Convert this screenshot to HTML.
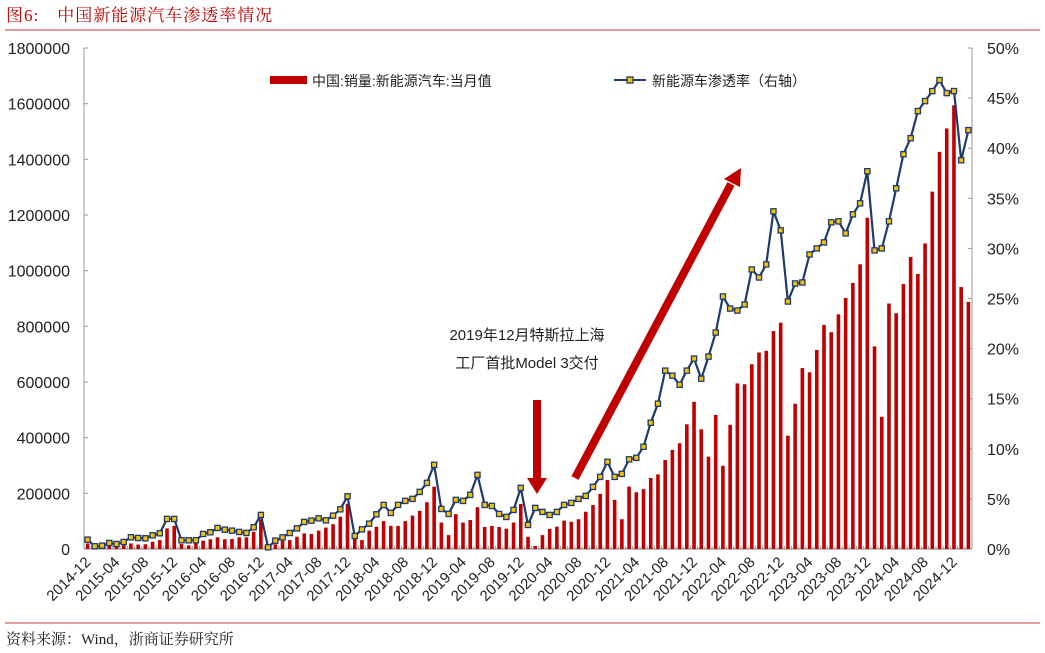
<!DOCTYPE html>
<html><head><meta charset="utf-8">
<style>
body{margin:0;background:#fff;}
svg{display:block;font-family:"Liberation Sans","Noto Sans CJK SC",sans-serif;}
</style></head>
<body>
<svg id="chart" width="1045" height="653" viewBox="0 0 1045 653">
<text x="6" y="21" font-family="'Liberation Serif','Noto Serif CJK SC',serif" font-size="17" letter-spacing="1" fill="#C00000">图6:　中国新能源汽车渗透率情况</text>
<line x1="5" y1="30" x2="1040" y2="30" stroke="#D06060" stroke-width="1.3"/>
<line x1="5" y1="623" x2="1040" y2="623" stroke="#D06060" stroke-width="1.3"/>
<text x="6" y="644" font-family="'Liberation Serif','Noto Serif CJK SC',serif" font-size="15" fill="#222">资料来源：Wind，浙商证券研究所</text>
<g id="plot"></g>
<g>
<rect x="270" y="76" width="37" height="8" fill="#C00000"/>
<text x="312" y="86" font-size="14" fill="#222">中国:销量:新能源汽车:当月值</text>
<line x1="614" y1="80" x2="646" y2="80" stroke="#1F3A6E" stroke-width="2"/>
<rect x="627" y="77" width="6" height="6" fill="#F5C400" stroke="#1F3A6E" stroke-width="1.3"/>
<text x="652" y="86" font-size="14" fill="#222">新能源车渗透率（右轴）</text>
</g>
<g>
<text x="527" y="340" font-size="15" fill="#222" text-anchor="middle">2019年12月特斯拉上海</text>
<text x="527" y="368" font-size="15" fill="#222" text-anchor="middle">工厂首批Model 3交付</text>
<rect x="533" y="400" width="8" height="79" fill="#C00000"/>
<polygon points="527,478 547,478 537,494" fill="#C00000"/>
<line x1="575" y1="478" x2="731" y2="184" stroke="#C00000" stroke-width="8"/>
<polygon points="741,168 740,187 724,179" fill="#C00000"/>
</g>
</svg>
<script>
const salesK=[20,
8,6,11,12,14,20,16,17,26,32,74,83,
18,13,23,30,35,42,35,36,42,42,62,107,
6,17,30,32,44,56,54,66,77,89,116,162,
38,32,66,80,100,83,83,100,120,137,168,224,
95,50,125,95,104,150,79,83,79,73,95,162,
44,11,50,72,80,102,98,107,134,158,198,248,
176,107,224,204,215,255,268,320,356,380,448,529,
430,332,482,299,446,595,592,664,706,712,783,813,
407,522,650,635,715,805,779,843,902,956,1023,1190,
728,475,882,847,952,1049,988,1098,1284,1427,1511,1594,
941,888];
const penetration=[0.93,
0.27,0.33,0.6,0.5,0.7,1.17,1.1,1.07,1.37,1.57,3.0,3.0,
0.87,0.87,0.87,1.5,1.67,2.1,1.93,1.83,1.7,1.6,2.17,3.4,
0.17,0.83,1.16,1.6,2.06,2.7,2.83,3.06,2.86,3.33,3.96,5.26,
1.3,1.96,2.53,3.46,4.4,3.6,4.4,4.8,5.0,5.7,6.6,8.4,
4.0,3.5,4.9,4.8,5.4,7.4,4.4,4.3,3.5,3.2,3.9,6.1,
2.4,4.1,3.7,3.4,3.7,4.4,4.6,5.0,5.3,6.2,7.2,8.7,
7.2,7.5,8.95,9.1,10.2,12.6,14.5,17.8,17.3,16.4,17.8,19.0,
17.0,19.2,21.6,25.2,24.0,23.8,24.4,27.9,27.1,28.4,33.7,31.8,
24.7,26.5,26.6,29.4,30.0,30.6,32.6,32.7,31.5,33.4,34.5,37.7,
29.8,30.0,32.7,36.0,39.4,41.0,43.7,44.7,45.7,46.8,45.5,45.7,
38.8,41.8];
const leftTicks=[0,200000,400000,600000,800000,1000000,1200000,1400000,1600000,1800000];
const rightTicks=[0,5,10,15,20,25,30,35,40,45,50];
const startYear=2014, startMonth=12;

const NS='http://www.w3.org/2000/svg';
const g=document.getElementById('plot');
const X0=84,X1=972,Y0=549,YT=48;
const n=salesK.length, step=(X1-X0)/n;
const xC=i=>X0+(i+0.5)*step;
const yL=v=>Y0-(v/1800000)*(Y0-YT);
const yR=p=>Y0-(p/50)*(Y0-YT);
function el(t,a){const e=document.createElementNS(NS,t);for(const k in a)e.setAttribute(k,a[k]);g.appendChild(e);return e;}
function label(i){let m=startMonth-1+i;const y=startYear+Math.floor(m/12);m=m%12+1;return y+'-'+(m<10?'0':'')+m;}

let e=el('line',{x1:X0,y1:YT,x2:X0,y2:Y0,stroke:'#999','stroke-width':1});


e=el('line',{x1:X1,y1:YT,x2:X1,y2:Y0,stroke:'#999','stroke-width':1});


e=el('line',{x1:X0,y1:Y0,x2:X1,y2:Y0,stroke:'#777','stroke-width':1});


leftTicks.forEach(v=>{
  const y=yL(v);
  let t=el('line',{x1:X0,y1:y,x2:X0+4,y2:y,stroke:'#999'});
  
  
  let tx=el('text',{x:70,y:y+6,'font-size':16,'text-anchor':'end',fill:'#222'});tx.textContent=v;
  
  
});
rightTicks.forEach(p=>{
  const y=yR(p);
  let t=el('line',{x1:X1-4,y1:y,x2:X1,y2:y,stroke:'#999'});
  
  
  let tx=el('text',{x:987,y:y+6,'font-size':16,fill:'#222'});tx.textContent=p+'%';
  
  
});
for(let i=0;i<=n;i++){
  const x=X0+i*step;
  let t=el('line',{x1:x,y1:Y0,x2:x,y2:Y0-3,stroke:'#999'});
  
  
}
for(let i=0;i<n;i+=4){
  const x=xC(i);
  let tx=el('text',{x:x+4,y:Y0+14,'font-size':15,'text-anchor':'end',fill:'#222',transform:`rotate(-45 ${x+4} ${Y0+14})`});
  tx.textContent=label(i);
  
  
}
salesK.forEach((v,i)=>{
  const y=yL(v*1000);
  let b=el('rect',{x:xC(i)-1.8,y:y,width:3.6,height:Y0-y,fill:'#C00000'});
  
  
});
let d=penetration.map((p,i)=>(i?'L':'M')+xC(i).toFixed(1)+','+yR(p).toFixed(1)).join(' ');
let ln=el('path',{d:d,fill:'none',stroke:'#1F3A6E','stroke-width':2.2,'stroke-linejoin':'round'});


penetration.forEach((p,i)=>{
  let m=el('rect',{x:xC(i)-2.6,y:yR(p)-2.6,width:5.2,height:5.2,fill:'#F5C400',stroke:'#1F3A6E','stroke-width':1.3});
  
  
});
</script>
</body></html>
